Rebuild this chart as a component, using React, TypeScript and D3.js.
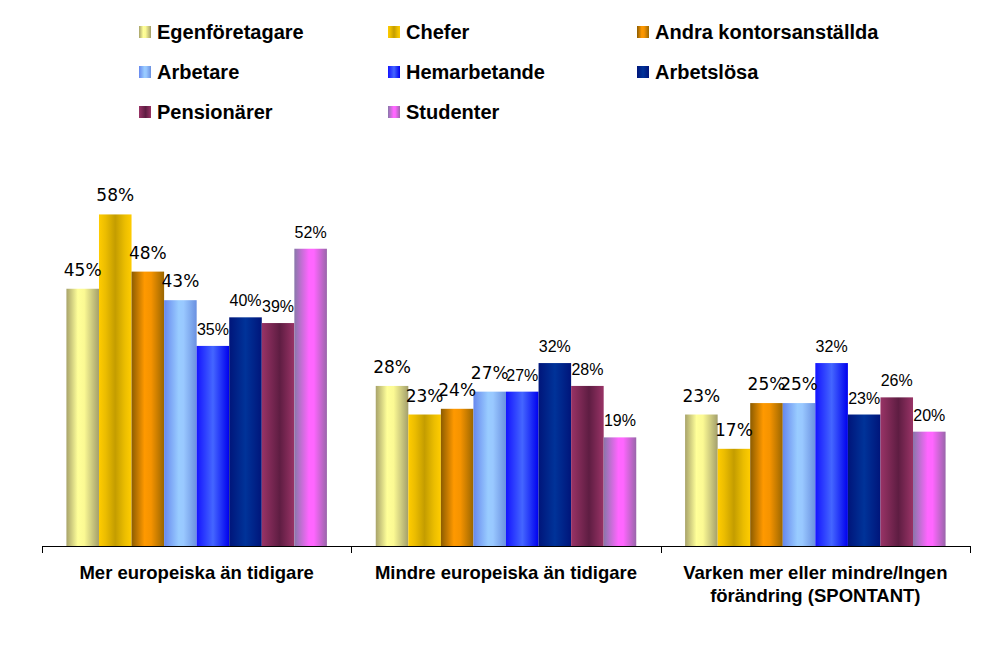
import React from "react";
import * as d3 from "d3";

const categories = [
  ["Mer europeiska än tidigare"],
  ["Mindre europeiska än tidigare"],
  ["Varken mer eller mindre/Ingen", "förändring (SPONTANT)"],
];
const seriesNames = [
  "Egenföretagare",
  "Chefer",
  "Andra kontorsanställda",
  "Arbetare",
  "Hemarbetande",
  "Arbetslösa",
  "Pensionärer",
  "Studenter",
];
const egenforetagare = [45, 28, 23];
const chefer = [58, 23, 17];
const andraKontor = [48, 24, 25];
const arbetare = [43, 27, 25];
const hemarbetande = [35, 27, 32];
const arbetslosa = [40, 32, 23];
const pensionarer = [39, 28, 26];
const studenter = [52, 19, 20];
const seriesValues = [egenforetagare, chefer, andraKontor, arbetare, hemarbetande, arbetslosa, pensionarer, studenter];

const gradients: [number, string][][] = [
  [[0, "#a8a36a"], [0.35, "#ffff99"], [0.55, "#fbf993"], [1, "#a39f6c"]],
  [[0, "#ffcc00"], [0.2, "#ecbd00"], [0.5, "#c49d00"], [0.8, "#ecbe00"], [1, "#ffcc00"]],
  [[0, "#8c5c00"], [0.4, "#ff9900"], [0.6, "#f59300"], [1, "#9a6600"]],
  [[0, "#6688ee"], [0.45, "#99ccff"], [0.6, "#99c8ff"], [1, "#6a90e0"]],
  [[0, "#1414ff"], [0.5, "#4466ff"], [1, "#0000ee"]],
  [[0, "#00157a"], [0.5, "#003399"], [1, "#00157a"]],
  [[0, "#993366"], [0.55, "#5e1d42"], [1, "#993366"]],
  [[0, "#8877aa"], [0.45, "#ff66ff"], [0.6, "#ff66ff"], [1, "#9966aa"]],
];

const W = 1008;
const H = 661;
const plotLeft = 42;
const plotRight = 970;
const baseY = 546;

export default function App() {
  const x0 = d3.scaleBand<number>().domain(d3.range(categories.length)).range([plotLeft, plotRight]).paddingInner(0).paddingOuter(0);
  const x1 = d3.scaleBand<number>().domain(d3.range(seriesNames.length)).range([0, x0.bandwidth()]).paddingInner(0).paddingOuter(0.75);
  const y = d3.scaleLinear().domain([0, 60]).range([baseY, 203]);

  const legendCols = [139, 388, 637];
  const legendRows = [39, 79, 119];

  return (
    <svg width={W} height={H} style={{ position: "absolute", left: 0, top: 0 }}>
      <defs>
        {gradients.map((stops, i) => (
          <linearGradient key={i} id={`g${i}`} x1="0" x2="1" y1="0" y2="0">
            {stops.map(([o, c], j) => (
              <stop key={j} offset={o} stopColor={c} />
            ))}
          </linearGradient>
        ))}
      </defs>
      <rect x={0} y={0} width={W} height={H} fill="#fff" />
      {/* legend */}
      {seriesNames.map((name, i) => {
        const col = i % 3;
        const row = Math.floor(i / 3);
        const lx = legendCols[col];
        const ly = legendRows[row];
        return (
          <g key={name}>
            <rect x={lx} y={ly - 13} width={12} height={12} fill={`url(#g${i})`} />
            <text x={lx + 18} y={ly} fontFamily="'Liberation Sans', Arial, sans-serif" fontWeight="bold" fontSize={20} fill="#000">
              {name}
            </text>
          </g>
        );
      })}
      {/* bars */}
      {seriesValues.map((vals, s) =>
        vals.map((v, c) => {
          const bx = (x0(c) as number) + (x1(s) as number);
          const bw = x1.bandwidth();
          return (
            <rect key={`${s}-${c}`} x={bx} y={y(v)} width={bw} height={baseY - y(v)} fill={`url(#g${s})`} />
          );
        })
      )}
      {/* labels */}
      {seriesValues.map((vals, s) =>
        vals.map((v, c) => {
          const cx = (x0(c) as number) + (x1(s) as number) + x1.bandwidth() / 2;
          const big = s < 4;
          return (
            <text
              key={`l${s}-${c}`}
              x={cx}
              y={y(v) - (big ? 13 : 11)}
              textAnchor="middle"
              fontFamily={big ? "'DejaVu Sans', Verdana, sans-serif" : "'Liberation Sans', Arial, sans-serif"}
              fontSize={big ? 17 : 16}
              fill="#000"
            >
              {v}%
            </text>
          );
        })
      )}
      {/* axis */}
      <line x1={plotLeft} x2={plotRight} y1={baseY + 0.5} y2={baseY + 0.5} stroke="#000" strokeWidth={1} />
      {d3.range(categories.length + 1).map((i) => {
        const tx = Math.round(i < categories.length ? (x0(i) as number) : plotRight) + 0.5;
        return <line key={`t${i}`} x1={tx} x2={tx} y1={baseY} y2={baseY + 7} stroke="#000" strokeWidth={1} />;
      })}
      {categories.map((lines, c) => {
        const cx = (x0(c) as number) + x0.bandwidth() / 2;
        return (
          <text key={`c${c}`} x={cx} y={579} textAnchor="middle" fontFamily="'Liberation Sans', Arial, sans-serif" fontWeight="bold" fontSize={18.5} fill="#000">
            {lines.map((ln, k) => (
              <tspan key={k} x={cx} dy={k === 0 ? 0 : 23}>
                {ln}
              </tspan>
            ))}
          </text>
        );
      })}
    </svg>
  );
}
